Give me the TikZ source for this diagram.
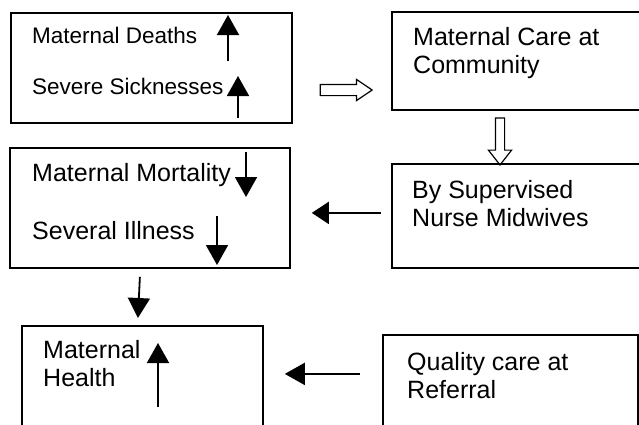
\documentclass[tikz,border=0pt]{standalone}
\usepackage{fontspec}
\setmainfont{Liberation Sans}
\usetikzlibrary{arrows.meta,shapes.arrows}
\tikzset{
  box/.style={draw, line width=1.8pt, rectangle, anchor=north west, inner sep=0pt},
  lbl/.style={font=\fontsize{25}{27.5}\selectfont, align=left, anchor=base west, inner sep=0pt},
  arr/.style={line width=1.8pt, -{Triangle[length=20pt,width=22pt]}},
  hollow/.style={draw, line width=1.2pt, single arrow, inner sep=0pt}
}
\begin{document}
\begin{tikzpicture}[x=1pt,y=-1pt]
    \useasboundingbox (0,0) rectangle (639,424);
    \clip (0,0) rectangle (639,424);
    % boxes
    \node[box, minimum width=281, minimum height=110] (risk) at (10,12) {};
    \node[box, minimum width=269, minimum height=98] (community) at (391,11) {};
    \node[box, minimum width=269, minimum height=104] (midwives) at (391,163) {};
    \node[box, minimum width=280, minimum height=120] (mortality) at (9,147) {};
    \node[box, minimum width=241, minimum height=115] (health) at (21,325) {};
    \node[box, minimum width=255, minimum height=106] (referral) at (382,334) {};
    % texts (base = last line)
    \node[lbl, font=\fontsize{22.5}{24}\selectfont] (deaths) at (32,43) {Maternal Deaths};
    \node[lbl, font=\fontsize{22.5}{24}\selectfont] (sick) at (32,94) {Severe Sicknesses};
    \node[lbl] (careT) at (413,73) {Maternal Care at\\Community};
    \node[lbl] (nurseT) at (412,226) {By Supervised\\Nurse Midwives};
    \node[lbl] (mortT) at (32,181) {Maternal Mortality};
    \node[lbl] (illT) at (32,239) {Several Illness};
    \node[lbl] (healthT) at (43,386) {Maternal\\Health};
    \node[lbl] (refT) at (407,398) {Quality care at\\Referral};
    % up and down marks
    \draw[arr] (228,61) -- (228,15);
    \draw[arr] (238,118) -- (238,76);
    \draw[arr] (246,152) -- (246,197);
    \draw[arr] (217,216) -- (217,265);
    \draw[arr] (158,407) -- (158,343);
    % hollow arrows
    \node[hollow, minimum height=52, minimum width=20, single arrow head extend=5, single arrow tip angle=68, inner ysep=5] (toCare) at (342,90) {};
    \node[hollow, minimum height=47, minimum width=22, single arrow head extend=7, single arrow tip angle=76, inner ysep=4, rotate=-90] (toNurse) at (500,138.5) {};
    % connectors
    \draw[arr, -{Triangle[length=17pt,width=22pt]}] ([shift={(-10,-3)}]midwives.west) -- ([shift={(21,5)}]mortality.east);
    \draw[arr] ([shift={(-10,8)}]mortality.south) -- ([shift={(-4.5,-7)}]health.north);
    \draw[arr] ([shift={(-22,-14)}]referral.west) -- ([shift={(21,-9.5)}]health.east);
\end{tikzpicture}
\end{document}
